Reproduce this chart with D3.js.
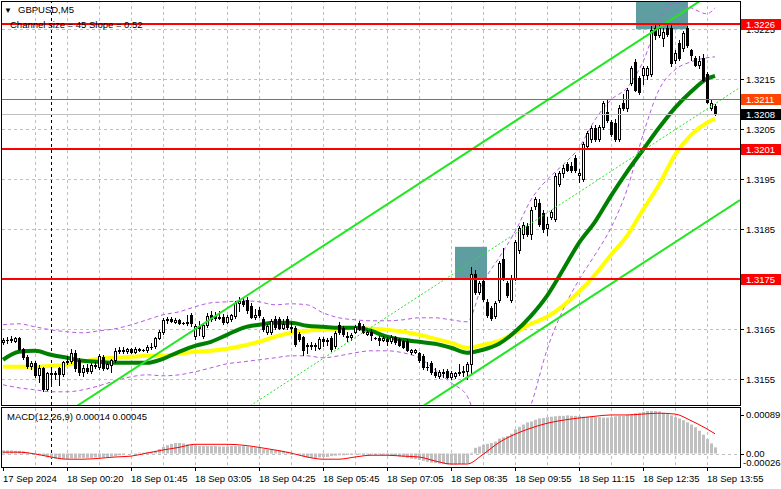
<!DOCTYPE html>
<html><head><meta charset="utf-8">
<script src="https://cdn.jsdelivr.net/npm/d3@7/dist/d3.min.js"></script>
<style>
html,body{margin:0;padding:0;background:#fff;}
svg{display:block;}
text{font-family:"Liberation Sans",Arial,sans-serif;}
</style></head><body>
<svg id="chart" width="781" height="489"></svg>
<script>
// ================= DATA =================
const symbolText = "GBPUSD,M5";
const channelText = "Channel size = 45 Slope = 0.52";
const macdText = "MACD(12,26,9) 0.00014 0.00045";
const basePrice = 1.3150;   // candle / indicator values below are pips above this price
const pipSize = 0.0001;

// [open, high, low, close] in pips above basePrice, one row per M5 bar (17 Sep 23:00 ... 18 Sep 14:05)
const ohlc = [
[12.4,13.2,12.0,12.9],[12.9,13.4,12.3,12.9],[12.9,13.6,12.5,13.0],[12.6,13.4,12.4,13.2],[13.2,13.4,10.8,11.0],
[11.0,11.3,9.0,9.5],[9.5,9.9,7.3,7.6],[7.6,8.6,7.0,8.3],[8.3,8.6,5.5,5.9],[5.9,7.8,4.5,7.3],
[7.3,7.5,2.6,3.0],[3.0,6.5,2.8,6.2],[6.2,7.4,4.0,6.0],[6.0,6.6,5.0,6.2],[7.2,7.4,3.8,6.0],
[6.0,8.6,5.6,8.4],[8.4,9.6,8.0,8.6],[8.6,11.0,8.2,10.2],[10.2,10.8,6.6,7.2],[8.8,9.2,5.8,6.4],
[6.4,7.8,5.6,7.2],[7.2,8.0,6.2,6.6],[6.6,8.2,6.2,7.8],[7.8,8.4,7.2,7.6],[7.4,10.0,7.0,9.6],
[9.4,9.8,6.8,7.3],[7.3,8.4,7.0,8.0],[7.8,9.0,6.5,8.8],[8.8,11.2,8.5,10.6],[10.6,11.5,10.2,10.9],
[10.9,11.4,10.3,10.6],[10.6,11.2,10.2,11.0],[11.0,11.3,10.3,10.5],[10.5,11.4,10.2,11.1],[11.1,11.3,10.6,10.8],
[10.8,11.0,10.6,10.8],[10.8,11.8,10.5,11.5],[11.5,12.2,11.0,11.4],[11.6,13.4,11.2,13.2],[13.2,14.8,13.0,14.4],
[14.4,17.2,14.0,16.8],[16.8,17.4,16.2,17.0],[17.0,17.4,16.4,16.6],[16.4,17.2,16.2,16.9],[16.9,17.0,16.0,16.2],
[16.2,16.4,16.0,16.2],[16.2,17.8,15.8,16.4],[17.8,18.2,15.6,16.2],[13.6,16.0,13.0,15.6],[15.6,16.6,13.8,15.2],
[13.6,16.0,13.2,15.8],[15.8,18.2,15.4,17.6],[17.8,18.6,16.6,17.0],[17.6,18.4,16.8,17.2],[17.2,18.6,17.0,17.4],
[17.4,18.0,16.0,16.4],[16.4,17.8,16.2,17.4],[17.0,18.0,16.6,17.8],[17.6,20.6,17.2,20.2],[20.2,21.4,18.6,20.6],
[20.6,21.2,19.6,20.0],[20.8,21.4,18.2,18.8],[19.6,20.2,17.2,17.4],[17.4,19.0,17.0,17.8],[18.8,19.4,17.4,17.8],
[17.0,17.4,14.6,15.0],[14.4,16.0,14.0,15.6],[14.4,17.0,14.0,16.6],[17.0,17.6,15.0,15.4],[17.0,17.4,15.0,15.3],
[15.3,17.0,15.0,16.0],[17.0,17.6,15.0,15.4],[15.4,16.4,14.4,15.2],[15.2,15.6,11.6,12.0],[14.0,14.4,12.6,13.0],
[13.4,13.6,9.8,10.8],[11.6,12.2,10.2,11.8],[11.8,12.4,11.0,11.6],[11.6,12.2,10.8,11.8],[11.2,13.4,11.0,13.0],
[13.0,13.4,11.6,12.6],[12.6,13.2,11.8,12.8],[13.2,13.6,10.6,11.0],[11.6,14.6,11.2,14.2],[15.8,16.4,14.0,14.4],
[15.2,15.6,13.6,14.0],[13.6,14.4,12.6,13.4],[13.4,14.2,12.8,13.8],[14.4,15.8,14.2,15.4],[16.2,16.6,14.8,15.0],
[15.6,16.0,14.2,14.4],[14.0,14.8,13.8,14.4],[14.4,15.0,12.8,13.8],[13.2,13.4,13.0,13.2],[13.2,13.6,11.8,12.8],
[12.8,13.6,12.6,13.2],[13.0,13.4,11.8,12.6],[12.6,13.8,12.2,13.4],[13.4,13.6,12.0,12.4],[13.0,13.2,11.6,11.8],
[12.6,12.8,11.2,11.4],[12.6,13.0,10.6,10.9],[10.4,11.0,10.0,10.8],[10.4,11.0,10.2,10.8],[10.2,10.4,8.4,8.8],
[9.6,10.0,7.0,7.4],[7.4,8.4,6.8,7.4],[8.2,8.6,6.0,6.4],[6.4,7.2,5.4,5.8],[5.6,6.8,5.2,6.4],
[6.4,7.0,5.4,6.2],[6.6,7.0,5.2,5.4],[5.4,6.6,5.0,6.2],[5.6,6.4,5.2,6.2],[6.2,8.0,5.8,6.4],
[6.4,7.6,5.6,6.6],[6.6,8.4,5.0,8.0],[8.0,27.4,6.0,26.0],[26.0,26.8,22.0,22.4],[22.4,24.6,22.0,24.2],
[24.6,25.0,20.6,21.0],[20.4,21.0,17.4,17.8],[19.2,19.6,16.8,17.2],[17.6,20.6,17.2,20.2],[20.8,28.6,20.4,28.2],
[29.0,31.2,24.8,25.2],[24.2,24.6,21.4,21.8],[20.8,25.8,20.4,25.2],[25.2,32.8,24.8,32.4],[30.8,35.6,30.2,35.2],
[34.0,36.4,33.2,35.8],[35.6,36.2,33.6,34.0],[34.0,39.4,33.0,38.8],[39.6,41.4,39.0,41.0],[40.2,41.0,35.6,36.0],
[38.2,38.8,34.4,35.0],[35.2,37.4,33.8,36.0],[37.4,38.8,37.0,38.4],[37.0,46.2,36.6,45.6],[44.0,46.6,43.6,46.2],
[46.2,47.8,45.4,47.2],[48.0,48.4,46.6,46.8],[47.6,48.4,46.4,46.8],[49.2,49.8,46.4,46.8],[45.8,47.0,44.4,46.2],
[45.0,52.4,44.6,52.0],[51.6,54.6,51.2,54.2],[53.0,55.6,52.4,55.2],[55.2,55.8,52.6,53.0],[53.0,55.8,52.6,55.4],
[55.4,60.6,55.0,60.2],[58.4,61.0,56.4,56.8],[56.4,56.8,53.6,54.0],[56.2,57.0,52.6,53.0],[53.0,59.8,52.6,59.2],
[60.2,62.0,58.8,59.2],[59.2,63.2,58.6,62.8],[64.2,67.6,63.8,67.2],[68.4,69.0,62.6,62.9],[65.2,65.6,62.0,62.4],
[65.8,67.6,64.0,67.2],[65.8,67.6,65.0,67.2],[66.0,75.6,65.6,74.8],[75.2,76.2,73.0,73.8],[73.8,76.0,73.4,75.2],
[73.2,75.2,71.6,74.4],[75.2,76.0,73.6,74.0],[75.2,75.8,67.6,68.2],[68.8,70.8,68.2,70.2],[72.2,72.8,68.8,69.2],
[71.2,74.6,70.6,74.2],[75.2,75.6,71.4,71.8],[70.8,71.0,68.8,69.8],[69.2,69.6,67.6,67.8],[67.8,69.6,67.2,68.6],
[69.2,70.0,64.6,64.9],[66.0,66.4,60.2,60.4],[59.2,61.0,58.8,60.2],[59.6,60.0,57.8,58.2]
];

// indicator readings (pips above basePrice) at these bar indices
const sampleBars = [0,4,8,12,16,20,24,28,32,36,40,44,48,52,56,60,64,68,72,76,80,84,88,92,96,100,104,108,112,116,120,124,128,132,136,140,144,148,152,156,160,164,168,172,176,178];
const maGreen  = [8.9,10.5,10.7,9.9,9.3,8.7,8.5,8.3,8.3,8.3,9.1,10.5,11.7,12.5,13.9,15.3,15.9,16.3,16.3,15.7,15.5,15.3,15.3,14.7,13.5,12.9,12.5,12.1,11.3,10.3,10.9,12.1,14.5,17.7,21.7,26.9,32.3,36.5,41.7,46.5,50.9,55.3,59.3,62.5,65.1,65.7];
const maYellow = [7.5,7.5,7.5,7.7,7.9,8.5,9.1,9.3,9.5,9.7,9.7,10.1,10.5,10.7,11.1,11.7,12.5,13.5,14.3,14.7,14.9,15.1,15.3,15.1,14.9,14.5,13.9,13.1,12.3,11.3,11.9,12.7,14.3,16.1,17.5,19.7,22.5,25.9,29.9,33.7,38.9,43.9,49.9,53.9,56.3,57.1];
const bandUpper = [15.9,16.1,15.5,14.9,14.5,14.3,14.7,15.1,15.9,16.9,17.9,18.5,19.5,20.3,20.5,20.7,20.5,19.9,20.1,19.9,18.3,17.3,16.9,16.7,16.7,16.9,17.3,17.3,16.9,16.5,24.3,29.3,34.5,40.9,44.9,47.9,51.3,56.9,60.9,63.3,68.5,76.9,80.3,79.3,78.1,79.3];
const bandLower = [3.9,3.3,2.9,2.5,2.5,2.9,3.7,4.7,5.5,5.9,5.7,5.9,6.5,7.3,8.1,8.5,8.9,9.3,9.7,9.7,9.3,9.7,10.3,10.7,10.7,10.3,9.3,6.9,4.3,1.7,-7.1,-10.1,-7.1,-0.1,10.9,18.9,24.9,29.9,35.3,42.9,53.9,62.9,66.9,68.5,69.3,69.5];

// MACD histogram per bar, and signal line at sampleBars (units of 0.00001)
const macdHist = [
7,7,7,6,6,5,3,1,-1,-4,-6,-9,-11,-12,-13,-13,-12,-11,-11,-10,-10,-10,-10,-9,-9,-9,-8,-7,-6,-4,
-2,0,1,1,2,2,3,4,6,10,15,19,22,24,24,23,21,19,18,17,17,17,17,17,16,16,16,17,17,17,
17,16,15,14,13,10,9,9,8,8,6,4,2,0,-3,-7,-9,-10,-11,-9,-8,-8,-6,-5,-4,-4,-3,-3,-2,-2,
-2,-2,-2,-2,-2,-3,-3,-5,-6,-7,-8,-10,-12,-13,-15,-17,-19,-21,-22,-23,-24,-25,-25,-25,-24,-24,-22,2,13,16,
20,22,24,27,34,37,40,45,55,61,66,71,73,77,80,81,83,84,85,86,86,87,86,86,85,84,84,83,83,83,
82,82,83,85,86,86,88,90,92,93,95,97,97,97,96,93,90,87,83,80,76,71,66,60,52,43,33,23,14
];
const macdSignal = [3,3,-1,-8,-13,-13,-11,-8,-6,1,8,14,21,21,21,19,14,8,1,-8,-13,-13,-8,-4,-4,-6,-8,-17,-24,-24,-2,25,44,58,69,76,81,85,88,88,90,92,90,75,56,45];

const priceTicks = [1.3155,1.3165,1.3175,1.3185,1.3195,1.3205,1.3215,1.3225];
const timeLabels = ["17 Sep 2024","18 Sep 00:20","18 Sep 01:45","18 Sep 03:05","18 Sep 04:25","18 Sep 05:45","18 Sep 07:05","18 Sep 08:35","18 Sep 09:55","18 Sep 11:15","18 Sep 12:35","18 Sep 13:55"];
const timeLabelBars = [0,16,32,48,64,80,96,112,128,144,160,176];
const daySeparatorBar = 12;
const redLevels = [1.3226,1.3201,1.3175];
const orangeLevel = 1.3211;
const bidPrice = 1.3208;
const macdAxisValues = [0.00089,0,-0.00026];
const macdAxisLabels = ["0.00089","0.00","-0.00026"];
// regression channel: upper line pips at a bar, slope pips/bar, width pips
const channelAnchorBar = 74.25, channelAnchorPips = 28.66, channelSlope = 0.52, channelSize = 45;
// highlighted zones [barFrom, barTo, priceFrom, priceTo]
const zones = [[113,121,1.3175,1.31815],[158.25,171.25,1.3225,1.3231]];

// ================= DRAW =================
const svg = d3.select("#chart");
const PL=2, PR=740, PT=2, PB=405, MT=407, MB=467;
const x = d3.scaleLinear().domain([-0.25,184.25]).range([PL,PR]);
const y = d3.scaleLinear().domain([1.3155,1.3225]).range([379.3,29.3]);
const ym = d3.scaleLinear().domain([0,0.00089]).range([453.5,414.5]);
const toPrice = v => basePrice + v*pipSize;
const bx = i => Math.round(x(i));
const py = p => Math.round(y(p));

svg.append("rect").attr("width",781).attr("height",489).attr("fill","#fff");
const defs = svg.append("defs");
defs.append("clipPath").attr("id","mainClip").append("rect")
  .attr("x",PL).attr("y",PT).attr("width",PR-PL).attr("height",PB-PT);
defs.append("clipPath").attr("id","macdClip").append("rect")
  .attr("x",PL).attr("y",MT).attr("width",PR-PL).attr("height",MB-MT);

const gridColor = "#c0c0c0";
const main = svg.append("g").attr("clip-path","url(#mainClip)");
const macd = svg.append("g").attr("clip-path","url(#macdClip)");

// title texts (under the level lines)
svg.append("text").attr("x",4).attr("y",13).attr("font-size",8).attr("font-family","DejaVu Sans").text("\u25BC");
svg.append("text").attr("x",18).attr("y",13).attr("font-size",9.5).text(symbolText);
svg.append("text").attr("x",10).attr("y",27.5).attr("font-size",9.5).text(channelText);

// grid
priceTicks.forEach(p=>{
  main.append("line").attr("x1",PL).attr("x2",PR).attr("y1",py(p)+0.5).attr("y2",py(p)+0.5)
    .attr("stroke",gridColor).attr("stroke-dasharray","3,3");
});
for (let b=8; b<184; b+=8){
  [main,macd].forEach(g=>g.append("line").attr("x1",bx(b)+0.5).attr("x2",bx(b)+0.5)
    .attr("y1",0).attr("y2",MB).attr("stroke",gridColor).attr("stroke-dasharray","3,3"));
}
[main,macd].forEach(g=>g.append("line").attr("x1",bx(daySeparatorBar)+0.5).attr("x2",bx(daySeparatorBar)+0.5)
  .attr("y1",0).attr("y2",MB).attr("stroke","#000").attr("stroke-dasharray","3,3"));

// zones
zones.forEach(z=>{
  main.append("rect").attr("x",x(z[0])).attr("width",x(z[1])-x(z[0]))
    .attr("y",y(z[3])).attr("height",y(z[2])-y(z[3])).attr("fill","#5f9ea0");
});

// indicators
const sLine = arr => d3.line().x((d,k)=>x(sampleBars[k])).y(d=>y(toPrice(d))).curve(d3.curveMonotoneX)(arr);
main.append("path").attr("d",sLine(bandUpper)).attr("fill","none").attr("stroke","#b45ce0").attr("stroke-width",1).attr("stroke-dasharray","4,3");
main.append("path").attr("d",sLine(bandLower)).attr("fill","none").attr("stroke","#b45ce0").attr("stroke-width",1).attr("stroke-dasharray","4,3");
main.append("path").attr("d",sLine(maYellow)).attr("fill","none").attr("stroke","#ffff00").attr("stroke-width",4);
main.append("path").attr("d",sLine(maGreen)).attr("fill","none").attr("stroke","#008000").attr("stroke-width",4);

// candles
const cg = main.append("g");
ohlc.forEach((d,i)=>{
  const cx = bx(i);
  const [o,h,l,c] = d.map(toPrice);
  cg.append("line").attr("x1",cx+0.5).attr("x2",cx+0.5).attr("y1",py(h)).attr("y2",py(l)+1)
    .attr("stroke","#000").attr("stroke-width",1);
  const top = py(Math.max(o,c)), bot = py(Math.min(o,c));
  if (bot-top < 1){
    cg.append("rect").attr("x",cx-1).attr("y",top).attr("width",3).attr("height",1).attr("fill","#000");
  } else if (c>o){
    cg.append("rect").attr("x",cx-0.5).attr("y",top+0.5).attr("width",2).attr("height",bot-top)
      .attr("fill","#fff").attr("stroke","#000").attr("stroke-width",1);
  } else {
    cg.append("rect").attr("x",cx-1).attr("y",top).attr("width",3).attr("height",bot-top+1).attr("fill","#000");
  }
});

// regression channel
const chan = (b,off) => toPrice(channelAnchorPips + channelSlope*(b-channelAnchorBar) - off);
const chLine = off => d3.line().x(b=>x(b)).y(b=>y(chan(b,off)))([-0.25,184.25]);
main.append("path").attr("d",chLine(0)).attr("stroke","#22e622").attr("stroke-width",2).attr("fill","none");
main.append("path").attr("d",chLine(channelSize)).attr("stroke","#22e622").attr("stroke-width",2).attr("fill","none");
main.append("path").attr("d",chLine(channelSize/2)).attr("stroke","#22e622").attr("stroke-width",1).attr("stroke-dasharray","2,2").attr("fill","none");

// horizontal levels
main.append("line").attr("x1",PL).attr("x2",PR).attr("y1",py(bidPrice)+0.5).attr("y2",py(bidPrice)+0.5).attr("stroke","#c0c0c0");
main.append("line").attr("x1",PL).attr("x2",PR).attr("y1",py(orangeLevel)+0.5).attr("y2",py(orangeLevel)+0.5).attr("stroke","#ff4500");
redLevels.forEach(p=>{
  main.append("line").attr("x1",PL).attr("x2",PR).attr("y1",py(p)).attr("y2",py(p)).attr("stroke","#ff0000").attr("stroke-width",2);
});

// MACD
const y0 = ym(0);
macd.append("line").attr("x1",PL).attr("x2",PR).attr("y1",Math.round(y0)+0.5).attr("y2",Math.round(y0)+0.5)
  .attr("stroke",gridColor).attr("stroke-dasharray","3,3");
macdHist.forEach((v,i)=>{
  const yv = ym(v*1e-5);
  macd.append("rect").attr("x",bx(i)-1).attr("width",3)
    .attr("y",Math.min(yv,y0)).attr("height",Math.abs(yv-y0)).attr("fill","#c0c0c0");
});
macd.append("path").attr("d",d3.line().x((d,k)=>x(sampleBars[k])).y(d=>ym(d*1e-5)).curve(d3.curveMonotoneX)(macdSignal))
  .attr("fill","none").attr("stroke","#ff0000").attr("stroke-width",1);
svg.append("text").attr("x",7).attr("y",420).attr("font-size",9.5).text(macdText);

// frames
svg.append("rect").attr("x",PL-0.5).attr("y",PT-0.5).attr("width",PR-PL+1).attr("height",PB-PT+1).attr("fill","none").attr("stroke","#000");
svg.append("rect").attr("x",PL-0.5).attr("y",MT+0.5).attr("width",PR-PL+1).attr("height",MB-MT).attr("fill","none").attr("stroke","#000");

// price axis
priceTicks.forEach(p=>{
  svg.append("line").attr("x1",PR).attr("x2",PR+4).attr("y1",py(p)+0.5).attr("y2",py(p)+0.5).attr("stroke","#000");
  svg.append("text").attr("x",746).attr("y",py(p)+4).attr("font-size",9.5).attr("fill","#000").text(p.toFixed(4));
});
function tag(p, fill, label){
  const c = py(p);
  svg.append("rect").attr("x",PR+1).attr("y",c-5).attr("width",40).attr("height",11).attr("fill",fill);
  svg.append("text").attr("x",746).attr("y",c+4).attr("font-size",9.5).attr("fill","#fff").text(label);
}
redLevels.forEach(p=>tag(p,"#ff0000",p.toFixed(4)));
tag(orangeLevel,"#ff4500",orangeLevel.toFixed(4));
tag(bidPrice,"#000",bidPrice.toFixed(4));

// MACD axis
macdAxisValues.forEach((v,k)=>{
  const yy = ym(v);
  const yb = k===0 ? yy+3.5 : (k===1 ? yy+3.5 : yy+4);
  svg.append("text").attr("x",k===2?743:746).attr("y",k===2?466:yb).attr("font-size",9.5).text(macdAxisLabels[k]);
  if (k<2) svg.append("line").attr("x1",PR).attr("x2",PR+4).attr("y1",Math.round(yy)+0.5).attr("y2",Math.round(yy)+0.5).attr("stroke","#000");
});

// time axis
timeLabelBars.forEach((b,k)=>{
  svg.append("line").attr("x1",bx(b)+0.5).attr("x2",bx(b)+0.5).attr("y1",MB).attr("y2",MB+4).attr("stroke","#000");
  svg.append("text").attr("x",bx(b)).attr("y",482).attr("font-size",9.5).text(timeLabels[k]);
});
</script>
</body></html>
